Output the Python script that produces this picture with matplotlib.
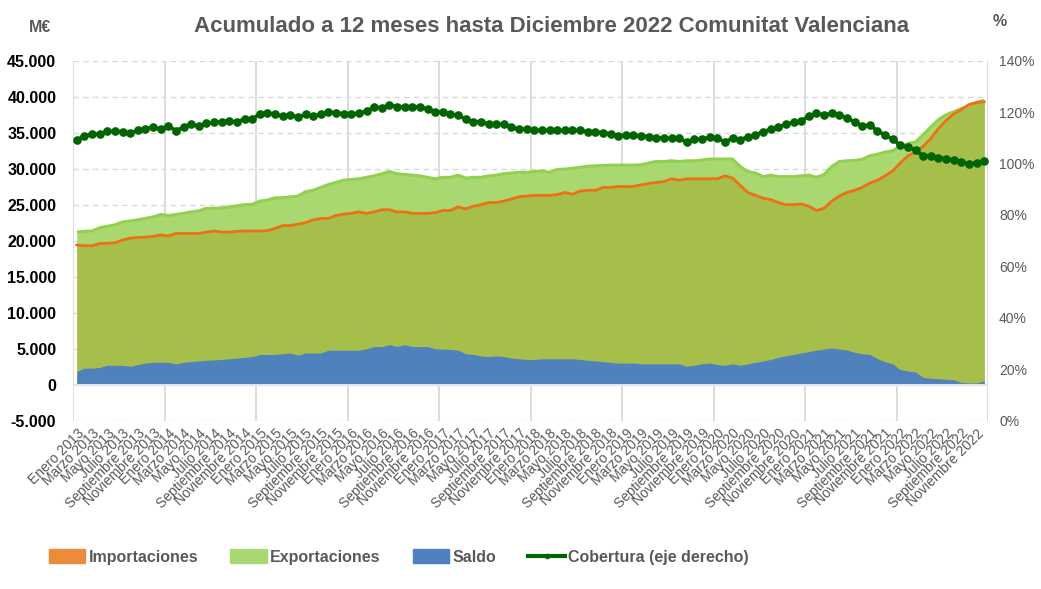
import matplotlib
matplotlib.use('Agg')
import matplotlib.pyplot as plt
from matplotlib import font_manager as fm
from matplotlib.patches import Patch
from matplotlib.lines import Line2D
from matplotlib.ticker import FuncFormatter, MultipleLocator

names = {f.name for f in fm.fontManager.ttflist}
FONT = 'Liberation Sans Narrow' if 'Liberation Sans Narrow' in names else 'Liberation Sans'
plt.rcParams['font.family'] = [FONT, 'DejaVu Sans']

# ---------------- data ----------------
meses = ['Enero', 'Febrero', 'Marzo', 'Abril', 'Mayo', 'Junio', 'Julio', 'Agosto',
         'Septiembre', 'Octubre', 'Noviembre', 'Diciembre']
anios = [2013, 2014, 2015, 2016, 2017, 2018, 2019, 2020, 2021, 2022]

exportaciones = [
    21200, 21300, 21350, 21800, 22000, 22200, 22600, 22750, 22900, 23100, 23300, 23650,
    23500, 23650, 23800, 24000, 24150, 24500, 24500, 24550, 24700, 24850, 25000, 25050,
    25500, 25650, 25950, 25970, 26100, 26200, 26800, 27000, 27400, 27800, 28100, 28400,
    28500, 28600, 28800, 29000, 29300, 29600, 29300, 29200, 29100, 29000, 28800, 28600,
    28800, 28800, 29100, 28700, 28800, 28800, 29000, 29100, 29300, 29400, 29500, 29500,
    29600, 29700, 29500, 29900, 29950, 30050, 30200, 30350, 30400, 30450, 30500, 30500,
    30500, 30500, 30550, 30800, 31000, 31000, 31100, 31000, 31100, 31100, 31200, 31350,
    31350, 31350, 31350, 30300, 29600, 29400, 28900, 29100, 28900, 28900, 28900, 29000,
    29100, 28800, 29200, 30300, 31000, 31100, 31150, 31300, 31800, 32000, 32300, 32500,
    33100, 33500, 33700, 34700, 35800, 36800, 37500, 37900, 38350, 38800, 39200, 39500]

importaciones = [
    19400, 19300, 19300, 19600, 19650, 19700, 20100, 20350, 20450, 20500, 20600, 20800,
    20650, 21000, 21000, 21000, 21000, 21200, 21350, 21200, 21200, 21300, 21350, 21350,
    21350, 21400, 21700, 22100, 22100, 22300, 22500, 22900, 23100, 23100, 23500, 23700,
    23800, 24000, 23800, 24000, 24300, 24300, 24000, 24000, 23800, 23800, 23800, 23900,
    24200, 24200, 24700, 24400, 24800, 25000, 25300, 25300, 25500, 25800, 26100, 26200,
    26300, 26300, 26300, 26400, 26700, 26450, 26900, 27000, 27000, 27400, 27400, 27550,
    27500, 27550, 27750, 27950, 28100, 28200, 28600, 28400, 28600, 28600, 28600, 28600,
    28600, 29000, 28700, 27700, 26700, 26300, 25900, 25700, 25300, 25000, 25000, 25100,
    24800, 24200, 24500, 25500, 26200, 26700, 27000, 27400, 28000, 28400, 29000, 29700,
    30800, 31800, 32300, 33100, 34200, 35600, 36700, 37600, 38200, 38900, 39200, 39300]

saldo = [
    1850, 2300, 2300, 2400, 2700, 2700, 2700, 2550, 2800, 3000, 3100, 3100,
    3100, 2900, 3100, 3200, 3300, 3400, 3450, 3500, 3600, 3700, 3800, 3900,
    4200, 4200, 4200, 4300, 4400, 4100, 4400, 4400, 4400, 4800, 4800, 4800,
    4800, 4800, 5000, 5300, 5300, 5550, 5300, 5550, 5300, 5300, 5300, 5000,
    4950, 4900, 4800, 4300, 4200, 4000, 3900, 4000, 3900, 3700, 3600, 3500,
    3500, 3600, 3600, 3600, 3600, 3600, 3500, 3400, 3300, 3200, 3100, 3000,
    3000, 3000, 2900, 2900, 2900, 2900, 2900, 2900, 2550, 2700, 2900, 3000,
    2800, 2700, 2900, 2700, 2900, 3100, 3300, 3500, 3800, 4000, 4200, 4400,
    4600, 4800, 4950, 5100, 4950, 4800, 4500, 4300, 4200, 3600, 3200, 2900,
    2100, 1900, 1760, 1000, 900, 830, 750, 700, 300, 250, 230, 550]

cobertura = [
    109.2, 110.7, 111.4, 111.5, 112.5, 112.5, 112.4, 111.8, 112.9, 113.6, 114.1, 113.4,
    114.6, 112.8, 114.1, 115.3, 114.6, 115.6, 116.0, 116.3, 116.5, 116.2, 117.3, 117.3,
    119.3, 119.8, 119.1, 118.5, 118.9, 118.0, 119.1, 118.5, 119.1, 120.0, 119.8, 119.3,
    119.3, 119.5, 120.4, 121.9, 121.7, 122.8, 122.1, 122.1, 122.1, 122.1, 121.2, 120.2,
    120.0, 119.1, 118.9, 117.2, 116.3, 116.3, 115.3, 115.3, 115.3, 114.1, 113.4, 113.4,
    112.9, 112.9, 112.9, 112.9, 112.9, 112.9, 112.9, 112.4, 112.4, 112.0, 111.5, 110.8,
    111.1, 111.1, 110.7, 110.5, 110.1, 109.8, 109.8, 109.8, 108.3, 109.4, 109.4, 110.2,
    109.8, 108.5, 109.8, 109.2, 110.5, 111.1, 112.4, 113.3, 114.1, 115.3, 116.0, 116.5,
    118.5, 119.5, 118.9, 119.5, 118.9, 117.6, 116.3, 114.6, 115.0, 112.7, 111.1, 109.4,
    107.2, 106.3, 105.3, 102.9, 102.9, 102.3, 101.8, 101.4, 100.7, 99.8, 100.3, 101.1]

categorias = [f'{m} {a}' for a in anios for m in meses]

# ---------------- figure ----------------
W, H = 1041, 589
fig = plt.figure(figsize=(W / 100, H / 100), dpi=100)
L, R, T, B = 73, 988, 60.7, 420.7
ax = fig.add_axes([L / W, 1 - B / H, (R - L) / W, (B - T) / H])

x = list(range(len(categorias)))
C_EXP = '#a9d871'
C_EXP_EDGE = '#92d050'
C_OLIVE = '#a6bf4b'
C_IMP = '#ed7014'
C_SAL = '#4f81bd'
C_COB = '#006400'

ax.fill_between(x, 0, exportaciones, color=C_EXP, lw=0, zorder=1)
ax.plot(x, exportaciones, color=C_EXP_EDGE, lw=2.2, zorder=1.5, solid_capstyle='butt')
ax.fill_between(x, 0, importaciones, color=C_OLIVE, lw=0, zorder=2)
ax.plot(x, importaciones, color=C_IMP, lw=2.0, zorder=3)
ax.fill_between(x, 0, saldo, color=C_SAL, lw=0, zorder=4)
ax.axhline(0, color='#dce6f2', lw=1.5, zorder=5)

ax.set_xlim(-0.5, len(categorias) - 0.5)
ax.set_ylim(-5000, 45000)
ax.yaxis.set_major_locator(MultipleLocator(5000))
ax.yaxis.set_major_formatter(FuncFormatter(lambda v, p: f'{int(v):,}'.replace(',', '.')))
ax.grid(axis='y', color='#d9d9d9', ls=(0, (4, 3)), lw=1.0)
for k in range(0, len(categorias) + 1, 12):
    ax.axvline(k - 0.5, color='#d9d9d9', lw=1.3, zorder=0.5)
ax.set_axisbelow(True)

ax.set_xticks(x[::2])
ax.set_xticklabels(categorias[::2], rotation=45, ha='right', rotation_mode='anchor',
                   fontsize=10, color='#595959')
ax.tick_params(axis='x', length=0, pad=4)
ax.tick_params(axis='y', length=0, pad=12, labelsize=11.5, labelcolor='black')
for lab in ax.get_yticklabels():
    lab.set_fontweight('bold')
for s in ax.spines.values():
    s.set_visible(False)

ax2 = ax.twinx()
ax2.set_position(ax.get_position())
ax2.plot(x, cobertura, color=C_COB, lw=2.6, marker='o', ms=5.2, zorder=6)
ax2.set_ylim(0, 140)
ax2.yaxis.set_major_locator(MultipleLocator(20))
ax2.yaxis.set_major_formatter(FuncFormatter(lambda v, p: f'{int(v)}%'))
ax2.tick_params(axis='y', length=0, pad=8, labelsize=10, labelcolor='#595959')
for s in ax2.spines.values():
    s.set_visible(False)

fig.text(552 / W, 1 - 26 / H, 'Acumulado a 12 meses hasta Diciembre 2022 Comunitat Valenciana',
         ha='center', va='center', fontsize=16, fontweight='bold', color='#595959')
fig.text(40 / W, 1 - 27 / H, 'M€', ha='center', va='center', fontsize=11.5,
         fontweight='bold', color='#595959')
fig.text(1000 / W, 1 - 22 / H, '%', ha='center', va='center', fontsize=11.5,
         fontweight='bold', color='#595959')

handles = [Patch(color='#ed8b3c'), Patch(color=C_EXP), Patch(color=C_SAL),
           Line2D([0], [0], color=C_COB, lw=3, marker='o', ms=3)]
labels = ['Importaciones', 'Exportaciones', 'Saldo', 'Cobertura (eje derecho)']
leg = fig.legend(handles, labels, loc='center left', bbox_to_anchor=(0.033, 1 - 557 / H),
                 ncol=4, frameon=False, fontsize=11.5, handlelength=2.3, handleheight=0.9,
                 handletextpad=0.2, columnspacing=2.0)
for t in leg.get_texts():
    t.set_color('#595959')
    t.set_fontweight('bold')

fig.savefig('out.png', dpi=100)
